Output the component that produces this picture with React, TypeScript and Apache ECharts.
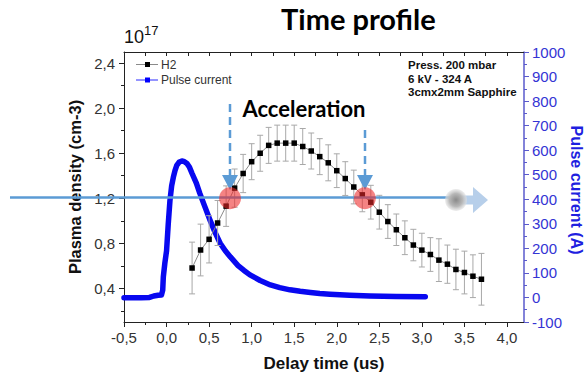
import React, { useEffect, useRef } from "react";
import * as echarts from "echarts";

// H2 plasma density (x 10^17 cm-3) vs delay time (us)
const delayTimes = [0.3, 0.4, 0.5, 0.6, 0.7, 0.8, 0.9, 1.0, 1.1, 1.2, 1.3, 1.4, 1.5, 1.6, 1.7, 1.8, 1.9, 2.0, 2.1, 2.2, 2.3, 2.4, 2.5, 2.6, 2.7, 2.8, 2.9, 3.0, 3.1, 3.2, 3.3, 3.4, 3.5, 3.6, 3.7];
const density = [0.58, 0.74, 0.835, 0.98, 1.13, 1.29, 1.42, 1.525, 1.6, 1.67, 1.69, 1.69, 1.69, 1.66, 1.62, 1.57, 1.515, 1.445, 1.375, 1.3, 1.23, 1.165, 1.076, 0.993, 0.92, 0.849, 0.784, 0.739, 0.7, 0.65, 0.614, 0.567, 0.54, 0.507, 0.48];
const densityErr = [0.23, 0.23, 0.21, 0.2, 0.18, 0.17, 0.17, 0.16, 0.16, 0.16, 0.16, 0.16, 0.16, 0.16, 0.16, 0.16, 0.16, 0.15, 0.15, 0.15, 0.15, 0.15, 0.15, 0.15, 0.14, 0.15, 0.14, 0.15, 0.15, 0.19, 0.17, 0.18, 0.19, 0.19, 0.23];

// Pulse current (A) vs delay time (us)
const currentTimes = [-0.5, -0.3, -0.2, -0.15, -0.1, -0.06, -0.045, -0.038, -0.02, 0.0, 0.02, 0.04, 0.06, 0.08, 0.1, 0.12, 0.15, 0.18, 0.21, 0.24, 0.27, 0.3, 0.35, 0.39, 0.45, 0.51, 0.57, 0.63, 0.69, 0.75, 0.84, 0.91, 0.98, 1.1, 1.22, 1.33, 1.45, 1.57, 1.69, 1.8, 1.92, 2.15, 2.39, 2.7, 3.04];
const current = [-1, -1, 0, 6, 9, 10, 30, 84, 140, 190, 300, 395, 455, 490, 518, 538, 552, 556, 553, 546, 530, 505, 466, 425, 370, 316, 265, 221, 190, 165, 130, 110, 92, 69, 51, 40, 31, 25, 20, 16, 13, 9, 6, 4, 3];

// Acceleration window markers (delay time, density)
const accelTimes = [0.746, 2.33];
const accelDensity = [1.2, 1.2];

const xTickLabels = ["-0,5", "0,0", "0,5", "1,0", "1,5", "2,0", "2,5", "3,0", "3,5", "4,0"];
const infoLines = ["Press. 200 mbar", "6 kV - 324 A", "3cmx2mm Sapphire"];

const fmt = (v: number) => v.toFixed(1).replace(".", ",");
const AR = "Liberation Sans, Arial, sans-serif";
const BLUE_TXT = "#3434d4";
const AXIS_BLUE = "#5a5acc";

export default function App() {
  const ref = useRef<HTMLDivElement>(null);
  useEffect(() => {
    if (!ref.current) return;
    const chart = echarts.init(ref.current, undefined, { renderer: "svg" });
    const hidden = { show: false };
    const noBounds = { outerBoundsMode: "none", containLabel: false };
    const blackLine = { show: true, onZero: false, lineStyle: { color: "#222", width: 1 } };
    const noLine = { show: false, onZero: false };
    const option: any = {
      animation: false,
      backgroundColor: "#ffffff",
      grid: [
        { left: 124, top: 52, width: 400, height: 270, ...noBounds },
        { left: 124, top: 63.25, width: 400, height: 247.5, ...noBounds },
        { left: 124, top: 63.25, width: 400, height: 225, ...noBounds },
        { left: 124, top: 52, width: 383, height: 270, ...noBounds },
      ],
      xAxis: [
        {
          type: "value", gridIndex: 0, position: "bottom", min: -0.5, max: 4.2,
          axisLine: blackLine,
          axisTick: hidden, axisLabel: hidden, splitLine: hidden,
          name: "Delay time (us)", nameLocation: "middle", nameGap: 33,
          nameTextStyle: { fontFamily: AR, fontWeight: "bold", fontSize: 17, color: "#111" },
        },
        {
          type: "value", gridIndex: 0, position: "top", min: -0.5, max: 4.2,
          axisLine: blackLine,
          axisTick: hidden, axisLabel: hidden, splitLine: hidden,
        },
        { type: "value", gridIndex: 1, show: false, min: 0, max: 1, axisLine: noLine },
        { type: "value", gridIndex: 2, show: false, min: 0, max: 1, axisLine: noLine },
        {
          type: "value", gridIndex: 3, position: "bottom", min: -0.5, max: 4.0, interval: 0.5,
          axisLine: noLine,
          axisTick: { show: true, length: 5, lineStyle: { color: "#222" } },
          minorTick: { show: true, splitNumber: 2, length: 3, lineStyle: { color: "#222" } },
          axisLabel: {
            margin: 8, fontFamily: AR, fontSize: 15, color: "#333",
            formatter: (v: number) => xTickLabels[Math.round((v + 0.5) / 0.5)] ?? fmt(v),
          },
          splitLine: hidden,
        },
        {
          type: "value", gridIndex: 3, position: "top", min: -0.5, max: 4.0, interval: 0.25,
          axisLine: noLine,
          axisTick: { show: true, inside: true, length: 4, lineStyle: { color: "#222" } },
          axisLabel: hidden, splitLine: hidden,
        },
      ],
      yAxis: [
        {
          type: "value", gridIndex: 0, position: "left", min: 0.1, max: 2.5,
          axisLine: blackLine,
          axisTick: hidden, axisLabel: hidden, splitLine: hidden,
          name: "Plasma density (cm-3)", nameLocation: "middle", nameGap: 41,
          nameTextStyle: { fontFamily: AR, fontWeight: "bold", fontSize: 16.5, color: "#111" },
        },
        {
          type: "value", gridIndex: 0, position: "right", min: -100, max: 1000, interval: 100,
          axisLine: { show: true, onZero: false, lineStyle: { color: AXIS_BLUE, width: 1.5 } },
          axisTick: { show: true, length: 5, lineStyle: { color: AXIS_BLUE } },
          minorTick: { show: true, splitNumber: 2, length: 3, lineStyle: { color: AXIS_BLUE } },
          axisLabel: { margin: 8, fontFamily: AR, fontSize: 15, color: BLUE_TXT, formatter: (v: number) => String(v) },
          splitLine: hidden,
        },
        {
          type: "value", gridIndex: 1, position: "left", min: 0.2, max: 2.4, interval: 0.2,
          axisLine: noLine,
          axisTick: { show: true, length: 3, lineStyle: { color: "#222" } },
          axisLabel: hidden, splitLine: hidden,
        },
        {
          type: "value", gridIndex: 2, position: "left", min: 0.4, max: 2.4, interval: 0.4,
          axisLine: noLine,
          axisTick: { show: true, length: 5, lineStyle: { color: "#222" } },
          axisLabel: { margin: 9, fontFamily: AR, fontSize: 15, color: "#333", formatter: fmt },
          splitLine: hidden,
        },
        { type: "value", gridIndex: 3, show: false, min: 0, max: 1, axisLine: noLine },
      ],
      series: [
        {
          name: "Pulse current", type: "line", xAxisIndex: 0, yAxisIndex: 1,
          data: currentTimes.map((t, i) => [t, current[i]]),
          showSymbol: false, smooth: false,
          lineStyle: { color: "#0808f0", width: 5.5, join: "round", cap: "round" },
          z: 2,
        },
        {
          name: "H2 error", type: "custom", xAxisIndex: 0, yAxisIndex: 0,
          data: delayTimes.map((t, i) => [t, density[i] - densityErr[i], density[i] + densityErr[i]]),
          encode: { x: 0, y: [1, 2] },
          renderItem: (_p: any, api: any) => {
            const lo = api.coord([api.value(0), api.value(1)]);
            const hi = api.coord([api.value(0), api.value(2)]);
            const w = 3;
            const st = { stroke: "#a8a8a8", lineWidth: 1 };
            return {
              type: "group",
              children: [
                { type: "line", shape: { x1: lo[0], y1: lo[1], x2: hi[0], y2: hi[1] }, style: st },
                { type: "line", shape: { x1: lo[0] - w, y1: lo[1], x2: lo[0] + w, y2: lo[1] }, style: st },
                { type: "line", shape: { x1: hi[0] - w, y1: hi[1], x2: hi[0] + w, y2: hi[1] }, style: st },
              ],
            };
          },
          z: 3,
        },
        {
          name: "H2", type: "line", xAxisIndex: 0, yAxisIndex: 0,
          data: delayTimes.map((t, i) => [t, density[i]]),
          symbol: "rect", symbolSize: 5.5,
          itemStyle: { color: "#000" },
          lineStyle: { color: "#8a8a8a", width: 1 },
          z: 4,
        },
        {
          name: "Acceleration", type: "scatter", xAxisIndex: 0, yAxisIndex: 0,
          data: accelTimes.map((t, i) => [t, accelDensity[i]]),
          symbol: "circle", symbolSize: 22,
          itemStyle: { color: "rgba(238,40,40,0.72)" },
          z: 50,
        },
      ],
      graphic: [
        {
          type: "text", left: 281, top: 4, z: 60,
          style: { text: "Time profile", fontFamily: "Lato, sans-serif", fontWeight: "bold", fontSize: 29, fill: "#000" },
        },
        {
          type: "text", x: 124, y: 49, z: 60,
          style: {
            text: "10{s|17}", fontFamily: AR, fontSize: 18, fill: "#111", verticalAlign: "bottom",
            rich: { s: { fontSize: 13, fontFamily: AR, fill: "#111", verticalAlign: "top", padding: [0, 0, 12, 0] } },
          },
        },
        // right axis title
        {
          type: "text", x: 576, y: 190, rotation: -Math.PI / 2, z: 60,
          style: { text: "Pulse current (A)", fontFamily: AR, fontWeight: "bold", fontSize: 16, fill: "#1f1fe0", align: "center", verticalAlign: "middle" },
        },
        // legend
        { type: "line", z: 60, shape: { x1: 136, y1: 64.5, x2: 158, y2: 64.5 }, style: { stroke: "#8a8a8a", lineWidth: 1 } },
        { type: "rect", z: 61, shape: { x: 145, y: 62, width: 5, height: 5 }, style: { fill: "#000" } },
        { type: "text", z: 60, x: 161, y: 64.5, style: { text: "H2", fontFamily: AR, fontSize: 12, fill: "#333", verticalAlign: "middle" } },
        { type: "line", z: 60, shape: { x1: 136, y1: 80, x2: 158, y2: 80 }, style: { stroke: "#2a2aff", lineWidth: 1 } },
        { type: "rect", z: 61, shape: { x: 145, y: 77.5, width: 5, height: 5 }, style: { fill: "#0000ff" } },
        { type: "text", z: 60, x: 161, y: 80, style: { text: "Pulse current", fontFamily: AR, fontSize: 12, fill: "#333", verticalAlign: "middle" } },
        // info box
        ...infoLines.map((t, i) => ({
          type: "text", z: 60, x: 408, y: 65 + i * 13.5,
          style: { text: t, fontFamily: AR, fontWeight: "bold", fontSize: 11.5, fill: "#111", verticalAlign: "middle" },
        })),
        // horizontal guide + arrow
        { type: "line", z: 40, shape: { x1: 10, y1: 197.5, x2: 456, y2: 197.5 }, style: { stroke: "#5b9bd5", lineWidth: 2.5 } },
        {
          type: "polygon", z: 40,
          shape: { points: [[455, 195.5], [473, 195.5], [473, 187], [488, 200], [473, 213], [473, 204.5], [455, 204.5]] },
          style: { fill: "#b7cfea" },
        },
        {
          type: "circle", z: 41, shape: { cx: 456, cy: 200, r: 11 },
          style: {
            fill: new echarts.graphic.RadialGradient(0.5, 0.5, 0.5, [
              { offset: 0, color: "#8a8a8a" },
              { offset: 0.6, color: "#b8b8b8" },
              { offset: 1, color: "rgba(225,225,225,0.6)" },
            ]),
          },
        },
        // dashed arrows
        { type: "line", z: 45, shape: { x1: 230, y1: 104, x2: 230, y2: 176 }, style: { stroke: "#5b9bd5", lineWidth: 2.5, lineDash: [8, 5] } },
        { type: "polygon", z: 45, shape: { points: [[222, 175], [238, 175], [230, 190]] }, style: { fill: "#5b9bd5" } },
        { type: "line", z: 45, shape: { x1: 365, y1: 130, x2: 365, y2: 176 }, style: { stroke: "#5b9bd5", lineWidth: 2.5, lineDash: [8, 5] } },
        { type: "polygon", z: 45, shape: { points: [[357, 175], [373, 175], [365, 190]] }, style: { fill: "#5b9bd5" } },
        {
          type: "text", z: 60, x: 304, y: 108,
          style: { text: "Acceleration", fontFamily: "Lato, sans-serif", fontWeight: "bold", fontSize: 22, fill: "#000", align: "center", verticalAlign: "middle" },
        },
      ],
    };
    chart.setOption(option);
    return () => chart.dispose();
  }, []);
  return (
    <div
      ref={ref}
      style={{ position: "fixed", left: 0, top: 0, width: 587, height: 372, background: "#fff" }}
    />
  );
}
